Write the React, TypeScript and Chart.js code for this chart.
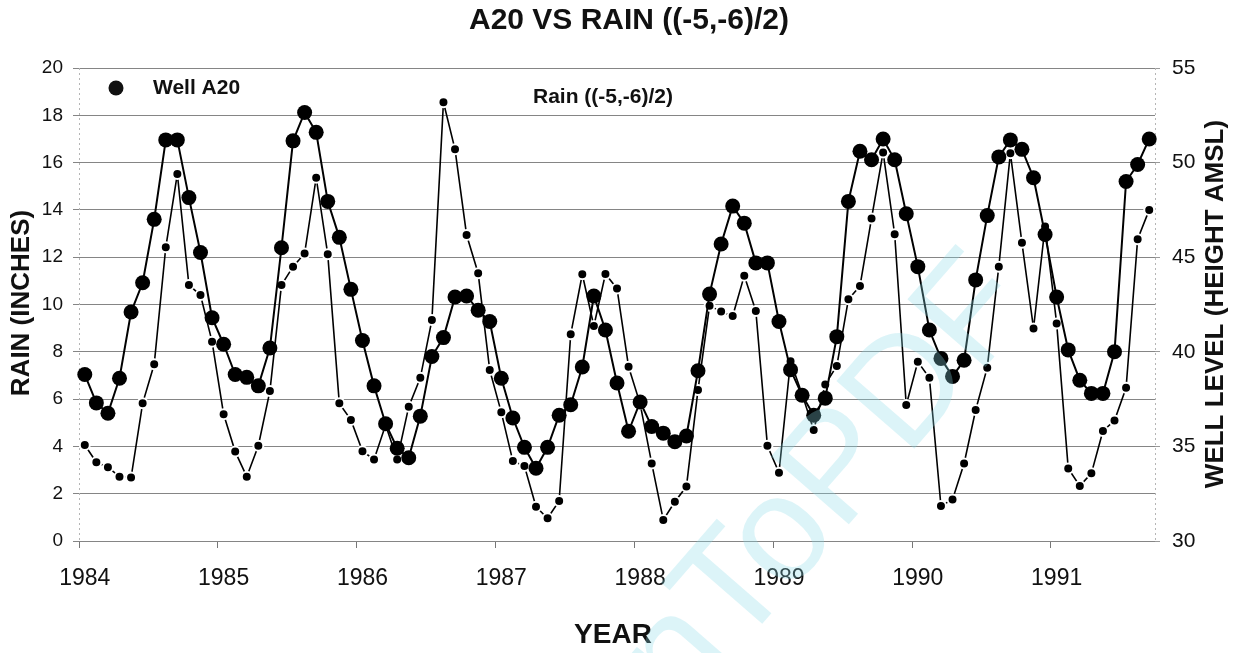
import React, { useEffect, useRef } from 'react';
import { Chart, registerables } from 'chart.js';

Chart.register(...registerables);

const FONT = "'Liberation Sans', Arial, Helvetica, sans-serif";
const W = 1242;
const H = 653;

const chartTitle = 'A20 VS RAIN ((-5,-6)/2)';
const wellLabel = 'Well A20';
const rainLabel = 'Rain ((-5,-6)/2)';
const xTitle = 'YEAR';
const rainAxisTitle = 'RAIN (INCHES)';
const wellAxisTitle = 'WELL LEVEL (HEIGHT AMSL)';

// Monthly record starting January 1984
const years = [1984, 1985, 1986, 1987, 1988, 1989, 1990, 1991];
const monthNames = ['Jan', 'Feb', 'Mar', 'Apr', 'May', 'Jun', 'Jul', 'Aug', 'Sep', 'Oct', 'Nov', 'Dec'];

// Well A20 water level, feet AMSL (right axis)
const wellA20 = [
  38.8, 37.3, 36.75, 38.6, 42.1, 43.65, 47.0, 51.2, 51.2, 48.15, 45.25, 41.8,
  40.4, 38.8, 38.65, 38.2, 40.2, 45.5, 51.15, 52.65, 51.6, 47.95, 46.05, 43.3,
  40.6, 38.2, 36.2, 34.9, 34.4, 36.6, 39.75, 40.75, 42.9, 42.95, 42.2, 41.6,
  38.6, 36.5, 34.95, 33.85, 34.95, 36.65, 37.2, 39.2, 42.95, 41.15, 38.35, 35.8,
  37.35, 36.05, 35.7, 35.25, 35.55, 39.0, 43.05, 45.7, 47.7, 46.8, 44.7, 44.7,
  41.6, 39.05, 37.7, 36.65, 37.55, 40.8, 47.95, 50.6, 50.15, 51.25, 50.15, 47.3,
  44.5, 41.15, 39.65, 38.7, 39.55, 43.8, 47.2, 50.3, 51.2, 50.7, 49.2, 46.2,
  42.9, 40.1, 38.5, 37.8, 37.8, 40.0, 49.0, 49.9, 51.25,
];

// Rain ((-5,-6)/2), inches (left axis)
const rainInches = [
  4.06, 3.33, 3.12, 2.72, 2.68, 5.82, 7.47, 12.42, 15.52, 10.82, 10.4, 8.43,
  5.36, 3.78, 2.72, 4.03, 6.34, 10.82, 11.6, 12.16, 15.36, 12.12, 5.82, 5.12,
  3.8, 3.45, 4.9, 3.45, 5.68, 6.9, 9.34, 18.55, 16.56, 12.94, 11.32, 7.23,
  5.44, 3.38, 3.17, 1.45, 0.96, 1.69, 8.74, 11.28, 9.09, 11.29, 10.68, 7.37,
  5.8, 3.28, 0.89, 1.66, 2.3, 6.38, 9.95, 9.7, 9.51, 11.22, 9.73, 4.03,
  2.89, 7.6, 6.2, 4.69, 6.62, 7.4, 10.22, 10.78, 13.64, 16.43, 12.97, 5.75,
  7.58, 6.9, 1.48, 1.76, 3.28, 5.54, 7.33, 11.6, 16.4, 12.61, 8.99, 13.3,
  9.2, 3.07, 2.33, 2.86, 4.65, 5.09, 6.48, 12.76, 14.0,
];

const periods = years
  .flatMap((y) => monthNames.map((m) => `${m} ${y}`))
  .slice(0, wellA20.length);

const PLOT = { left: 79, right: 1155, top: 68, bottom: 541 };

// Faint dotted frame on the two vertical sides of the plot
const frame = {
  id: 'frame',
  beforeDatasetsDraw(chart: Chart) {
    const { ctx, chartArea } = chart;
    ctx.save();
    ctx.strokeStyle = '#b5b5b5';
    ctx.lineWidth = 1;
    ctx.setLineDash([2, 3]);
    ctx.beginPath();
    ctx.moveTo(chartArea.left + 0.5, chartArea.top);
    ctx.lineTo(chartArea.left + 0.5, chartArea.bottom);
    ctx.moveTo(chartArea.right + 0.5, chartArea.top);
    ctx.lineTo(chartArea.right + 0.5, chartArea.bottom);
    ctx.stroke();
    ctx.restore();
  },
};

const annotate = {
  id: 'annotate',
  afterDraw(chart: Chart) {
    const { ctx } = chart;
    ctx.save();
    ctx.fillStyle = '#111';
    ctx.textBaseline = 'middle';
    ctx.textAlign = 'center';

    ctx.font = `bold 30px ${FONT}`;
    ctx.fillText(chartTitle, 629, 21);

    ctx.font = `bold 28px ${FONT}`;
    ctx.fillText(xTitle, 613, 635);

    ctx.font = `bold 26px ${FONT}`;
    ctx.save();
    ctx.translate(22, 303);
    ctx.rotate(-Math.PI / 2);
    ctx.fillText(rainAxisTitle, 0, 0);
    ctx.restore();

    ctx.save();
    ctx.translate(1216, 304);
    ctx.rotate(-Math.PI / 2);
    ctx.fillText(wellAxisTitle, 0, 0);
    ctx.restore();

    // series keys
    ctx.beginPath();
    ctx.arc(116, 88, 7.5, 0, Math.PI * 2);
    ctx.fill();
    ctx.textAlign = 'left';
    ctx.font = `bold 21px ${FONT}`;
    ctx.fillText(wellLabel, 153, 88);
    ctx.fillText(rainLabel, 533, 97);

    // faint diagonal stamp
    ctx.save();
    ctx.translate(682, 716);
    ctx.rotate((-49 * Math.PI) / 180);
    ctx.font = `150px ${FONT}`;
    ctx.textAlign = 'left';
    ctx.textBaseline = 'alphabetic';
    ctx.fillStyle = 'rgba(140, 220, 232, 0.3)';
    ctx.fillText('nToPDF', 0, 0);
    ctx.restore();

    ctx.restore();
  },
};

export default function App() {
  const canvasRef = useRef<HTMLCanvasElement | null>(null);

  useEffect(() => {
    const canvas = canvasRef.current;
    if (!canvas) return;

    const chart = new Chart(canvas, {
      type: 'line',
      data: {
        labels: periods,
        datasets: [
          {
            label: wellLabel,
            data: wellA20,
            yAxisID: 'well',
            borderColor: '#000',
            borderWidth: 2,
            pointRadius: 7.5,
            pointBorderWidth: 0,
            pointBackgroundColor: '#000',
            pointBorderColor: '#000',
            tension: 0,
            clip: false,
            order: 0,
          },
          {
            label: rainLabel,
            data: rainInches,
            yAxisID: 'rain',
            borderColor: '#000',
            borderWidth: 1.6,
            pointRadius: 5,
            pointBorderWidth: 2,
            pointBackgroundColor: '#000',
            pointBorderColor: '#fff',
            tension: 0,
            clip: false,
            order: 1,
          },
        ],
      },
      options: {
        responsive: false,
        animation: false,
        events: [],
        layout: { padding: { top: PLOT.top, left: 0, right: 0, bottom: 0 } },
        plugins: {
          legend: { display: false },
          tooltip: { enabled: false },
          title: { display: false },
        },
        scales: {
          x: {
            type: 'category',
            offset: true,
            grid: {
              offset: true,
              drawOnChartArea: false,
              drawTicks: true,
              tickLength: 7,
              tickColor: (c: any) => (c.index % 12 === 0 ? '#777' : 'rgba(0,0,0,0)'),
            },
            border: { display: false },
            ticks: {
              autoSkip: false,
              maxRotation: 0,
              minRotation: 0,
              padding: 17,
              color: '#111',
              font: { family: FONT, size: 23 },
              callback: (_v: any, i: number) => (i % 12 === 0 ? String(years[i / 12]) : ''),
            },
            afterFit: (s: any) => {
              s.height = H - PLOT.bottom;
            },
          },
          rain: {
            type: 'linear',
            position: 'left',
            min: 0,
            max: 20,
            ticks: {
              stepSize: 2,
              padding: 10,
              color: '#111',
              font: { family: FONT, size: 19 },
            },
            grid: {
              color: '#858585',
              lineWidth: 1,
              drawTicks: true,
              tickLength: 6,
              tickColor: '#858585',
            },
            border: { display: false },
            afterFit: (s: any) => {
              s.width = PLOT.left;
            },
          },
          well: {
            type: 'linear',
            position: 'right',
            min: 30,
            max: 55,
            ticks: {
              stepSize: 5,
              padding: 12,
              color: '#111',
              font: { family: FONT, size: 21 },
            },
            grid: {
              drawOnChartArea: false,
              drawTicks: true,
              tickLength: 5,
              tickColor: '#999',
            },
            border: { display: false },
            afterFit: (s: any) => {
              s.width = W - PLOT.right;
            },
          },
        },
      },
      plugins: [frame, annotate],
    });

    return () => {
      chart.destroy();
    };
  }, []);

  return (
    <div style={{ position: 'fixed', left: 0, top: 0, width: W, height: H, background: '#fff' }}>
      <canvas ref={canvasRef} width={W} height={H} style={{ display: 'block' }} />
    </div>
  );
}
